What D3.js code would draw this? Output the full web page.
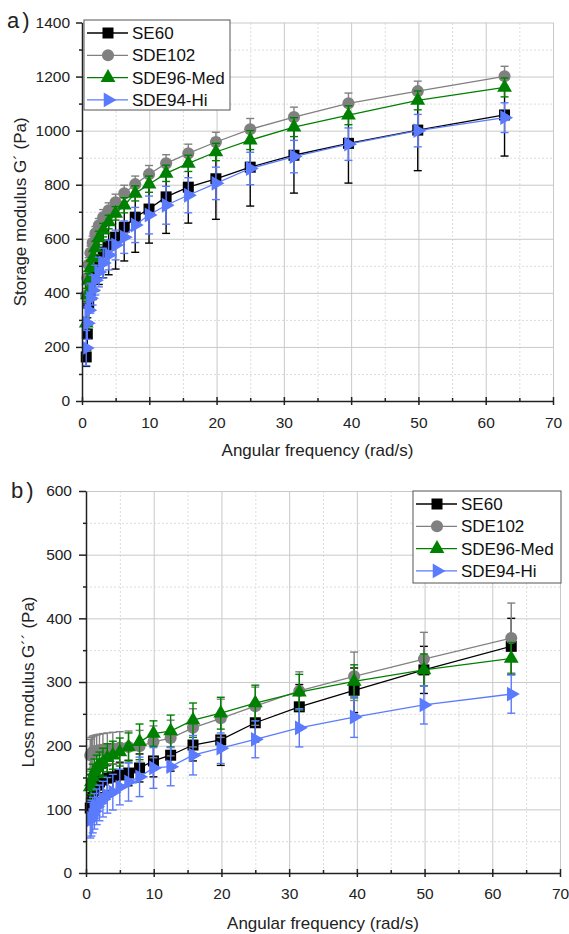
<!DOCTYPE html>
<html>
<head>
<meta charset="utf-8"/>
<script src="https://cdn.jsdelivr.net/npm/d3@7"></script>
<style>
html, body { margin: 0; padding: 0; background: #fff; }
svg { display: block; font-family: Arial, "Liberation Sans", sans-serif; }
.grid .domain { display: none; }
.grid-major line { stroke: #c9c9c9; stroke-width: 1; }
.grid-minor line { stroke: #dcdcdc; stroke-width: 1; stroke-dasharray: 2,2; }
.axis path, .axis line { stroke: #222; stroke-width: 1.5; }
.axis text { font-size: 15.5px; fill: #222; }
.title { font-size: 17px; fill: #222; }
.panel-label { font-size: 22px; fill: #222; }
.legend text { font-size: 17px; fill: #111; }
</style>
</head>
<body>
<svg id="fig" width="569" height="934"></svg>
<script>

// angular frequency (rad/s), shared by all series
var freq = [0.628, 0.791, 0.996, 1.25, 1.58, 1.99, 2.5, 3.15, 3.96, 4.99, 6.28, 7.91, 9.96, 12.5, 15.8, 19.9, 25, 31.5, 39.6, 49.9, 62.8];

var seriesNames = ["SE60", "SDE102", "SDE96-Med", "SDE94-Hi"];
var xTicks = [0, 10, 20, 30, 40, 50, 60, 70];

// a) storage modulus G' (Pa)
var storageSE60     = [163, 248, 362, 410, 455, 492, 521, 551, 577, 606, 643, 680, 710, 755, 791, 822, 865, 909, 953, 1002, 1058];
var storageSE60Err  = [35, 60, 70, 75, 80, 85, 90, 95, 110, 118, 125, 130, 126, 135, 133, 150, 144, 140, 147, 150, 152];
var storageSDE102    = [390, 455, 505, 548, 585, 620, 650, 680, 705, 735, 768, 802, 839, 879, 916, 958, 1005, 1050, 1101, 1146, 1201];
var storageSDE102Err = [25, 25, 25, 25, 25, 25, 25, 28, 28, 30, 30, 30, 32, 32, 34, 36, 40, 37, 38, 37, 37];
var storageSDE96     = [288, 392, 447, 492, 529, 566, 603, 632, 662, 694, 724, 768, 802, 842, 879, 921, 965, 1013, 1057, 1112, 1160];
var storageSDE96Err  = [20, 25, 25, 25, 25, 25, 25, 25, 25, 25, 28, 28, 30, 30, 30, 32, 35, 35, 35, 35, 35];
var storageSDE94     = [196, 288, 336, 380, 410, 447, 477, 510, 540, 577, 606, 651, 688, 724, 761, 805, 860, 904, 950, 1000, 1048];
var storageSDE94Err  = [65, 60, 55, 55, 55, 55, 55, 55, 55, 55, 60, 65, 70, 70, 65, 60, 60, 60, 60, 60, 55];
var storageYTicks = [0, 200, 400, 600, 800, 1000, 1200, 1400];

// b) loss modulus G'' (Pa)
var lossSE60     = [102, 110, 119, 130, 138, 143, 146, 149, 151, 154, 157, 165, 176, 185, 201, 209, 236, 261, 287, 319, 356];
var lossSE60Err  = [20, 20, 20, 20, 20, 20, 20, 20, 20, 20, 20, 22, 25, 25, 25, 40, 30, 35, 35, 37, 44];
var lossSDE102    = [185, 188, 190, 191, 192, 193, 194, 195, 196, 197, 198, 199, 206, 212, 228, 243, 262, 286, 309, 336, 369];
var lossSDE102Err = [25, 25, 25, 25, 25, 25, 25, 25, 25, 25, 25, 25, 25, 28, 30, 30, 30, 30, 38, 42, 55];
var lossSDE96     = [135, 143, 151, 159, 165, 170, 174, 181, 185, 190, 198, 206, 219, 223, 240, 251, 267, 284, 301, 319, 337];
var lossSDE96Err  = [20, 20, 20, 20, 20, 20, 22, 22, 22, 22, 22, 28, 20, 25, 27, 25, 28, 28, 26, 25, 25];
var lossSDE94     = [83, 86, 91, 97, 104, 110, 116, 122, 127, 135, 143, 151, 165, 167, 185, 196, 210, 228, 245, 264, 281];
var lossSDE94Err  = [28, 28, 28, 28, 28, 28, 28, 28, 28, 28, 30, 31, 32, 30, 31, 24, 29, 30, 32, 30, 30];
var lossYTicks = [0, 100, 200, 300, 400, 500, 600];

//---------------------------------------
var colors  = ["#000000", "#808080", "#008000", "#5b7bff"];
var symbols = [
  {type: d3.symbolSquare,   size: 121, rot: 0},
  {type: d3.symbolCircle,   size: 115, rot: 0},
  {type: d3.symbolTriangle, size: 95,  rot: 0},
  {type: d3.symbolTriangle, size: 95,  rot: 90}
];

var svg = d3.select("#fig");
var fmt = d3.format("d");

function drawPanel(p) {
  var x = d3.scaleLinear().domain([0, 70]).range([p.left, p.right]);
  var y = d3.scaleLinear().domain([0, p.ymax]).range([p.bottom, p.top]);
  var g = svg.append("g");
  var xMinor = xTicks.slice(0, -1).map(function(d) { return d + 5; });
  var yStep = p.yTicks[1] - p.yTicks[0];
  var yMinor = p.yTicks.slice(0, -1).map(function(d) { return d + yStep / 2; });

  // grid
  g.append("g").attr("class", "grid grid-minor")
    .attr("transform", "translate(0," + p.bottom + ")")
    .call(d3.axisBottom(x).tickValues(xMinor).tickSize(-(p.bottom - p.top)).tickFormat(""));
  g.append("g").attr("class", "grid grid-minor")
    .attr("transform", "translate(" + p.left + ",0)")
    .call(d3.axisLeft(y).tickValues(yMinor).tickSize(-(p.right - p.left)).tickFormat(""));
  g.append("g").attr("class", "grid grid-major")
    .attr("transform", "translate(0," + p.bottom + ")")
    .call(d3.axisBottom(x).tickValues(xTicks.slice(1)).tickSize(-(p.bottom - p.top)).tickFormat(""));
  g.append("g").attr("class", "grid grid-major")
    .attr("transform", "translate(" + p.left + ",0)")
    .call(d3.axisLeft(y).tickValues(p.yTicks.slice(1)).tickSize(-(p.right - p.left)).tickFormat(""));

  // series
  p.series.forEach(function(s, k) {
    var pts = freq.map(function(f, i) { return {x: f, y: s.values[i], e: s.errors[i]}; });
    var sg = g.append("g");
    var eb = sg.selectAll(".eb").data(pts).enter().append("g")
      .attr("stroke", colors[k]).attr("stroke-width", 1.4);
    eb.append("line")
      .attr("x1", function(d) { return x(d.x); }).attr("x2", function(d) { return x(d.x); })
      .attr("y1", function(d) { return y(d.y - d.e); }).attr("y2", function(d) { return y(d.y + d.e); });
    [-1, 1].forEach(function(sgn) {
      eb.append("line")
        .attr("x1", function(d) { return x(d.x) - 4; }).attr("x2", function(d) { return x(d.x) + 4; })
        .attr("y1", function(d) { return y(d.y + sgn * d.e); }).attr("y2", function(d) { return y(d.y + sgn * d.e); });
    });
    sg.append("path").datum(pts)
      .attr("fill", "none").attr("stroke", colors[k]).attr("stroke-width", 1.3)
      .attr("d", d3.line().x(function(d) { return x(d.x); }).y(function(d) { return y(d.y); }));
    var sym = d3.symbol().type(symbols[k].type).size(symbols[k].size);
    sg.selectAll(".mk").data(pts).enter().append("path")
      .attr("d", sym)
      .attr("fill", colors[k])
      .attr("transform", function(d) { return "translate(" + x(d.x) + "," + y(d.y) + ") rotate(" + symbols[k].rot + ")"; });
  });

  // axes
  var xa = g.append("g").attr("class", "axis")
    .attr("transform", "translate(0," + p.bottom + ")")
    .call(d3.axisBottom(x).tickValues(xTicks).tickFormat(fmt).tickSizeInner(4).tickSizeOuter(0).tickPadding(p.xPad));
  xa.selectAll(".tick line").attr("y1", -4);
  var xm = g.append("g").attr("class", "axis")
    .attr("transform", "translate(0," + p.bottom + ")")
    .call(d3.axisBottom(x).tickValues(xMinor).tickSize(-3).tickFormat(""));
  xm.select(".domain").remove();

  g.append("g").attr("class", "axis")
    .attr("transform", "translate(" + p.left + ",0)")
    .call(d3.axisLeft(y).tickValues(p.yTicks).tickFormat(fmt).tickSizeInner(p.yTick).tickSizeOuter(0).tickPadding(p.yPad));
  var ym = g.append("g").attr("class", "axis")
    .attr("transform", "translate(" + p.left + ",0)")
    .call(d3.axisLeft(y).tickValues(yMinor).tickSize(3).tickFormat(""));
  ym.select(".domain").remove();

  // titles
  g.append("text").attr("class", "title")
    .attr("text-anchor", "middle")
    .attr("x", (p.left + p.right) / 2).attr("y", p.xTitleY)
    .text("Angular frequency (rad/s)");
  g.append("text").attr("class", "title")
    .attr("text-anchor", "middle")
    .attr("transform", "translate(" + p.yTitleX + "," + (p.top + p.bottom) / 2 + ") rotate(-90)")
    .attr("dy", "0.35em")
    .text(p.yTitle);
  g.append("text").attr("class", "panel-label")
    .attr("x", p.labelX).attr("y", p.labelY)
    .attr("letter-spacing", 3)
    .text(p.label);

  // legend
  var lg = g.append("g").attr("class", "legend");
  lg.append("rect")
    .attr("x", p.legend[0]).attr("y", p.legend[1])
    .attr("width", p.legend[2]).attr("height", p.legend[3])
    .attr("fill", "#fff").attr("stroke", "#555").attr("stroke-width", 1);
  p.series.forEach(function(s, k) {
    var ly = p.legend[1] + 13 + k * 22.3;
    var lx = p.legend[0] + 3;
    lg.append("line").attr("x1", lx).attr("x2", lx + 41).attr("y1", ly).attr("y2", ly)
      .attr("stroke", colors[k]).attr("stroke-width", 1.3);
    lg.append("path")
      .attr("d", d3.symbol().type(symbols[k].type).size(symbols[k].size))
      .attr("fill", colors[k])
      .attr("transform", "translate(" + (lx + 21) + "," + ly + ") rotate(" + symbols[k].rot + ")");
    lg.append("text").attr("x", lx + 45).attr("y", ly).attr("dy", "0.36em").text(s.name);
  });
}

drawPanel({
  left: 82, right: 553, top: 22.5, bottom: 401, ymax: 1400,
  yTicks: storageYTicks, yTick: 6, yPad: 6, xPad: 12,
  xTitleY: 456, yTitleX: 20, yTitle: "Storage modulus G\u00b4 (Pa)",
  label: "a)", labelX: 7, labelY: 28,
  legend: [84, 20, 146, 90],
  series: [
    {name: seriesNames[0], values: storageSE60,  errors: storageSE60Err},
    {name: seriesNames[1], values: storageSDE102, errors: storageSDE102Err},
    {name: seriesNames[2], values: storageSDE96, errors: storageSDE96Err},
    {name: seriesNames[3], values: storageSDE94, errors: storageSDE94Err}
  ]
});

drawPanel({
  left: 86, right: 560, top: 491, bottom: 873, ymax: 600,
  yTicks: lossYTicks, yTick: 7, yPad: 7, xPad: 11,
  xTitleY: 929, yTitleX: 28, yTitle: "Loss modulus G\u00b4\u00b4 (Pa)",
  label: "b)", labelX: 11, labelY: 498,
  legend: [413, 491, 148, 92],
  series: [
    {name: seriesNames[0], values: lossSE60,  errors: lossSE60Err},
    {name: seriesNames[1], values: lossSDE102, errors: lossSDE102Err},
    {name: seriesNames[2], values: lossSDE96, errors: lossSDE96Err},
    {name: seriesNames[3], values: lossSDE94, errors: lossSDE94Err}
  ]
});

</script>
</body>
</html>
